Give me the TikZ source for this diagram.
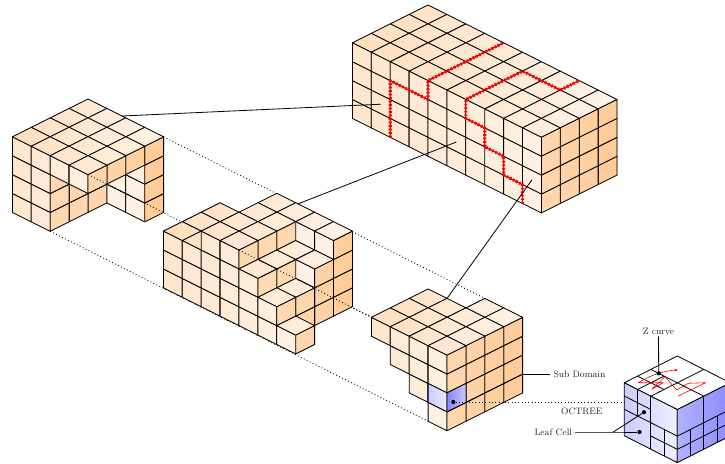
\documentclass[tikz,border=0pt]{standalone}
\usetikzlibrary{arrows.meta}
\tikzset{
  cell/.style={draw=black,line width=0.8pt,line join=round},
  iso/.style={x={(18.9pt,-9.45pt)},y={(-18.9pt,-9.45pt)},z={(0pt,18.9pt)}},
  oct/.style={x={(53pt,-26.8pt)},y={(-53pt,-26.8pt)},z={(0pt,-53pt)}},
  thin line/.style={draw=black,line width=0.8pt},
  dotline/.style={draw=black,line width=0.85pt,dash pattern=on 0.9pt off 2.4pt},
  redcurve/.style={draw=red,line width=0.8pt,line join=round,
     postaction={draw=red,line width=3.1pt,dash pattern=on 1.7pt off 1.8pt}},
  lbl/.style={font=\fontsize{9.3}{11}\selectfont,inner sep=0pt,text=black!85},
  leafdot/.style={circle,fill=black,inner sep=0pt,minimum size=4.2pt},
  ofill/.style={draw=black,line width=0.8pt,line join=round}
}
\newcommand\setshade[3]{\def\sL{#1}\def\sF{#2}\def\sR{#3}}
\newcommand\topf[3]{%
  \pgfmathsetmacro\pa{max(9,26-17*(#1-#2-1-(\sL))/(\sR-(\sL)))}%
  \pgfmathsetmacro\pb{max(9,26-17*(#1-#2+1-(\sL))/(\sR-(\sL)))}%
  \filldraw[cell,left color=orange!\pa!white,right color=orange!\pb!white]
    (#1,#2,#3+1) -- (#1+1,#2,#3+1) -- (#1+1,#2+1,#3+1) -- (#1,#2+1,#3+1) -- cycle;}
\newcommand\leftf[3]{%
  \pgfmathsetmacro\pa{max(11,20-9*(#1-#2-1-(\sL))/(\sF-(\sL)))}%
  \pgfmathsetmacro\pb{max(11,20-9*(#1-#2-(\sL))/(\sF-(\sL)))}%
  \filldraw[cell,left color=orange!\pa!white,right color=orange!\pb!white]
    (#1,#2+1,#3) -- (#1+1,#2+1,#3) -- (#1+1,#2+1,#3+1) -- (#1,#2+1,#3+1) -- cycle;}
\newcommand\rightf[3]{%
  \pgfmathsetmacro\pa{max(30,31+10*(#1-#2-(\sF))/(\sR-(\sF)))}%
  \pgfmathsetmacro\pb{max(30,31+10*(#1-#2+1-(\sF))/(\sR-(\sF)))}%
  \filldraw[cell,left color=orange!\pa!white,right color=orange!\pb!white]
    (#1+1,#2+1,#3) -- (#1+1,#2,#3) -- (#1+1,#2,#3+1) -- (#1+1,#2+1,#3+1) -- cycle;}
\newcommand\vox[3]{\leftf{#1}{#2}{#3}\rightf{#1}{#2}{#3}\topf{#1}{#2}{#3}}
% column of voxels at (x,y) from z=#3 to #4
\newcommand\col[4]{\foreach \zz in {#3,...,#4} {\vox{#1}{#2}{\zz}}}
\begin{document}
\begin{tikzpicture}
\useasboundingbox (0pt,0pt) rectangle (725pt,-463pt);
\clip (0pt,0pt) rectangle (725pt,-463pt);

% ---------- top block T
\begin{scope}[shift={(428pt,-80.6pt)},iso]
  \setshade{-4}{6}{10}
  \foreach \xx in {0,...,9} {\foreach \yy in {0,...,3} {\topf{\xx}{\yy}{3}}}
  \foreach \xx in {0,...,9} {\foreach \zz in {0,...,3} {\leftf{\xx}{3}{\zz}}}
  \foreach \yy in {0,...,3} {\foreach \zz in {0,...,3} {\rightf{9}{\yy}{\zz}}}
  \draw[redcurve] (2,4,0) -- (2,4,3) -- (4,4,3) -- (4,4,4) -- (4,0,4);
  \draw[redcurve] (9,4,0) -- (9,4,1) -- (8,4,1) -- (8,4,2) -- (7,4,2) -- (7,4,3)
     -- (6,4,3) -- (6,4,4) -- (6,1,4) -- (8,1,4) -- (8,0,4);
  \coordinate (Tcella) at (1.5,4,1.5);
  \coordinate (Tcellb) at (5.5,4,1.5);
  \coordinate (Tcellc) at (9.5,4,1.5);
\end{scope}

% ---------- left block A
\begin{scope}[shift={(88pt,-174.6pt)},iso]
  \setshade{-4}{0}{4}
  \foreach \xx in {0,1} {\foreach \yy in {0,...,3} {\col{\xx}{\yy}{0}{3}}}
  \foreach \xx in {2,3} {
    \col{\xx}{0}{0}{3}
    \foreach \yy in {1,2,3} {\vox{\xx}{\yy}{3}}
  }
  \coordinate (Aedge) at (1.8,0,4);
  \coordinate (Aright) at (4,0,4);
  \coordinate (Afront) at (4,4,4);
  \coordinate (Abottom) at (2,4,0);
\end{scope}

% coordinates of blocks B and C that the dotted lines use
\begin{scope}[shift={(239pt,-250pt)},iso]
  \coordinate (Bfront) at (4,4,4);
  \coordinate (Bedge) at (3.12,0,4);
\end{scope}
\begin{scope}[shift={(447pt,-355.1pt)},iso]
  \coordinate (Cleft) at (0,4,4);
  \coordinate (Cback) at (2,0,4);
  \coordinate (Cbottom) at (3,4,0);
  \coordinate (Ctop) at (1,1,4);
  \coordinate (Cside) at (4,0,1);
\end{scope}

\draw[dotline] (Afront) -- (Cleft);
\draw[dotline] (Aright) -- (Cback);
\draw[dotline] (Abottom) -- (Cbottom);

% ---------- middle block B
\begin{scope}[shift={(239pt,-250pt)},iso]
  \setshade{-4}{3}{6}
  \foreach \xx in {0,1} {\foreach \yy in {1,2,3} {\col{\xx}{\yy}{0}{2}}}
  \foreach \xx in {2,3} {\foreach \yy in {0,...,3} {\col{\xx}{\yy}{0}{3}}}
  \col{4}{0}{0}{3}
  \foreach \yy in {1,2,3} {\col{4}{\yy}{0}{2}}
  \col{5}{0}{0}{3}
  \col{5}{1}{0}{2}
  \col{5}{2}{0}{1}
  \col{5}{3}{0}{1}
  \vox{6}{3}{0}
\end{scope}
\draw[dotline] (Bfront) -- (Cleft);

% ---------- block C
\begin{scope}[shift={(447pt,-355.1pt)},iso]
  \setshade{-4}{0}{4}
  \foreach \yy in {1,2,3} {\vox{0}{\yy}{3}}
  \foreach \yy in {1,2,3} {\col{1}{\yy}{2}{3}}
  \foreach \yy in {0,...,3} {\col{2}{\yy}{1}{3}}
  \foreach \yy in {0,...,3} {\col{3}{\yy}{0}{3}}
  \filldraw[cell,left color=blue!20,right color=blue!8]
    (3,4,1) -- (4,4,1) -- (4,4,2) -- (3,4,2) -- cycle;
  \filldraw[cell,left color=blue!48,right color=blue!20]
    (4,4,1) -- (4,3,1) -- (4,3,2) -- (4,4,2) -- cycle;
\end{scope}

% ---------- connectors between blocks
\draw[thin line] (Aedge) -- (Tcella);
\draw[thin line] (Bedge) -- (Tcellb);
\draw[thin line] (Ctop) -- (Tcellc);

% ---------- octree D
\begin{scope}[shift={(677.3pt,-356pt)},oct]
  \filldraw[ofill,fill=white] (0,0,0) -- (1,0,0) -- (1,1,0) -- (0,1,0) -- cycle;
  \filldraw[ofill,left color=blue!20,right color=blue!6]
     (0,1,0) -- (1,1,0) -- (1,1,1) -- (0,1,1) -- cycle;
  \filldraw[ofill,left color=blue!30,right color=blue!46]
     (1,1,0) -- (1,0,0) -- (1,0,1) -- (1,1,1) -- cycle;
  % top subdivision
  \draw[ofill] (0.5,0,0) -- (0.5,1,0);
  \draw[ofill] (0,0.5,0) -- (1,0.5,0);
  \draw[ofill] (0.25,0.5,0) -- (0.25,1,0);
  \draw[ofill] (0,0.75,0) -- (0.5,0.75,0);
  % left face subdivision
  \draw[ofill] (0.5,1,0) -- (0.5,1,1);
  \draw[ofill] (0,1,0.5) -- (1,1,0.5);
  \draw[ofill] (0,1,0.25) -- (0.5,1,0.25);
  \draw[ofill] (0.25,1,0) -- (0.25,1,0.5);
  \draw[ofill] (0.75,1,0.5) -- (0.75,1,1);
  \draw[ofill] (0.5,1,0.75) -- (1,1,0.75);
  % right face subdivision
  \draw[ofill] (1,1,0.5) -- (1,0,0.5);
  \draw[ofill] (1,1,0.75) -- (1,0,0.75);
  \draw[ofill] (1,0.5,0) -- (1,0.5,1);
  \draw[ofill] (1,0.75,0.5) -- (1,0.75,1);
  \draw[ofill] (1,0.25,0.5) -- (1,0.25,1);
  \coordinate (Dedge) at (0,1,0.374);
\end{scope}
% Z curve
\draw[red,line width=0.6pt,-{Stealth[length=3.2pt,width=3pt]},line join=round]
  (678.3pt,-396pt) -- (705.7pt,-382.7pt) -- (688.3pt,-383.3pt) -- (676.7pt,-390pt)
  -- (665pt,-376.7pt) -- (651.7pt,-389.3pt) -- (663.3pt,-382.7pt) -- (638.3pt,-382.7pt)
  .. controls (648pt,-377pt) and (660pt,-371pt) .. (677.7pt,-370pt);

% ---------- leaf dots, labels and their lines
\node[leafdot] (zdot) at (658.7pt,-373.3pt) {};
\node[leafdot] (cdot) at (453.3pt,-402pt) {};
\node[leafdot] (leafa) at (644pt,-412.2pt) {};
\node[leafdot] (leafb) at (639.5pt,-432pt) {};
\node[lbl] (zlabel) at (658.5pt,-331pt) {Z curve};
\node[lbl] (sublabel) at (579.5pt,-374.3pt) {Sub Domain};
\node[lbl] (octlabel) at (581.7pt,-411.7pt) {OCTREE};
\node[lbl] (leaflabel) at (553.3pt,-432.3pt) {Leaf Cell};
\coordinate (leafstart) at ([xshift=3pt]leaflabel.east |- leafb);
\coordinate (leafjoin) at (613.3pt,-432pt);
\draw[thin line] (zlabel.south) ++(0,-2pt) -- (zdot);
\draw[thin line] (Cside) -- ([xshift=-3pt]Cside -| sublabel.west);
\draw[dotline] (cdot) -- (cdot -| Dedge);
\draw[thin line] (leafstart) -- (leafjoin) -- (leafb);
\draw[thin line] (leafjoin) -- (leafa);
\end{tikzpicture}
\end{document}
